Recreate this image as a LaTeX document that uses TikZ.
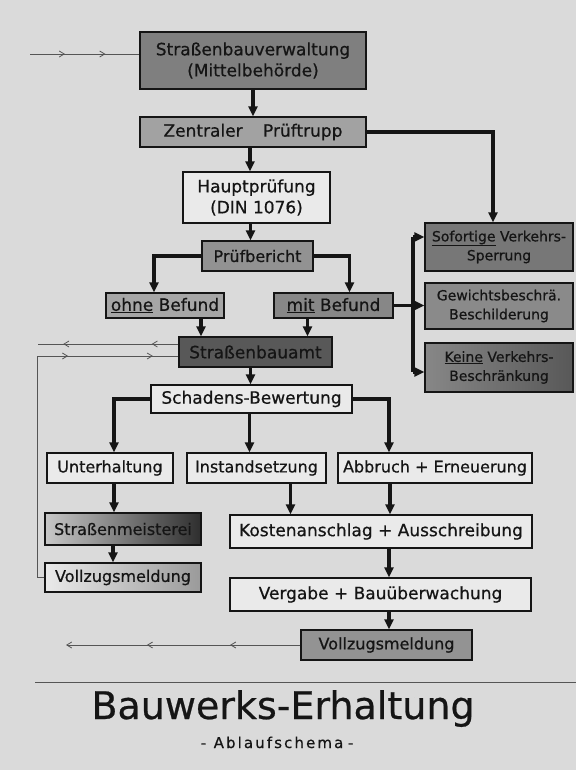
\documentclass[tikz,border=0pt]{standalone}
\usepackage{fontspec}
\setmainfont{DejaVu Sans}[FakeBold=0.6]
\usetikzlibrary{arrows.meta,decorations.markings,calc}
\definecolor{bg}{HTML}{DADADA}
\definecolor{ink}{HTML}{151515}
\definecolor{thinc}{HTML}{555555}
\definecolor{wbox}{HTML}{EAEAEA}
\definecolor{cA}{HTML}{7F7F7F}
\definecolor{cB}{HTML}{A2A2A2}
\definecolor{cPB}{HTML}{929292}
\definecolor{cOB}{HTML}{A6A6A6}
\definecolor{cMB}{HTML}{878787}
\definecolor{cSA}{HTML}{585858}
\definecolor{cSV}{HTML}{777777}
\definecolor{cGB}{HTML}{8A8A8A}
\definecolor{cVR}{HTML}{939393}
\definecolor{smL}{HTML}{C8C8C8}
\definecolor{smR}{HTML}{2E2E2E}
\definecolor{vlR}{HTML}{9A9A9A}
\begin{document}
\begin{tikzpicture}[x=1pt,y=-1pt,
  box/.style={draw=ink, line width=1.3pt, inner sep=0pt, align=center, text=ink,
    font=\fontsize{16}{19}\selectfont},
  smallbox/.style={box, font=\fontsize{14}{19}\selectfont},
  conn/.style={draw=ink, line width=3.2pt, -{Triangle[length=10pt,width=9pt]}},
  plain/.style={draw=ink, line width=3.2pt},
  thinl/.style={draw=thinc, line width=0.8pt},
  twomarks/.style n args={2}{postaction={decorate,decoration={markings,
    mark=at position #1 with {\arrow{Straight Barb[length=5pt,width=6pt]}},
    mark=at position #2 with {\arrow{Straight Barb[length=5pt,width=6pt]}}}}}
]
\useasboundingbox (0,0) rectangle (576,770);
\fill[bg] (0,0) rectangle (576,770);

% nodes
\node[box, fill=cA, minimum width=226pt, minimum height=57pt, font=\fontsize{17}{21}\selectfont] (b1) at (253,60.5) {Straßenbauverwaltung\\(Mittelbehörde)};
\node[box, fill=cB, minimum width=226pt, minimum height=30pt, font=\fontsize{17}{21}\selectfont] (b2) at (253,132) {Zentraler\hspace{1.2em}Prüftrupp};
\node[box, fill=wbox, minimum width=147pt, minimum height=51pt, font=\fontsize{17}{21}\selectfont] (hp) at (256.5,197.5) {Hauptprüfung\\(DIN 1076)};
\node[box, fill=cPB, minimum width=111pt, minimum height=30pt] (pb) at (257.5,256) {Prüfbericht};
\node[box, fill=cOB, minimum width=118pt, minimum height=25pt, font=\fontsize{17}{21}\selectfont] (ob) at (165,305.5) {\underline{ohne} Befund};
\node[box, fill=cMB, minimum width=119pt, minimum height=25pt, font=\fontsize{17}{21}\selectfont] (mb) at (333.5,305.5) {\underline{mit} Befund};
\node[box, fill=cSA, minimum width=153pt, minimum height=30pt, font=\fontsize{17}{21}\selectfont] (sa) at (255.5,352) {Straßenbauamt};
\node[smallbox, fill=cSV, minimum width=148pt, minimum height=48pt] (sv) at (499,247) {\underline{Sofortige} Verkehrs-\\Sperrung};
\node[smallbox, fill=cGB, minimum width=148pt, minimum height=46pt] (gb) at (499,306) {Gewichtsbeschrä.\\Beschilderung};
\node[smallbox, left color=cMB, right color=cSA, minimum width=148pt, minimum height=49pt] (kv) at (499,367.5) {\underline{Keine} Verkehrs-\\Beschränkung};
\node[box, fill=wbox, minimum width=201pt, minimum height=28pt, font=\fontsize{17}{21}\selectfont] (sb) at (251.5,399) {Schadens-Bewertung};
\node[box, fill=wbox, minimum width=126pt, minimum height=30pt] (uh) at (110,468) {Unterhaltung};
\node[box, fill=wbox, minimum width=139pt, minimum height=30pt] (is) at (256.5,468) {Instandsetzung};
\node[box, fill=wbox, minimum width=194pt, minimum height=30pt] (ae) at (435,468) {Abbruch + Erneuerung};
\node[box, left color=smL, right color=smR, minimum width=156pt, minimum height=32pt] (sm) at (123,529) {Straßenmeisterei};
\node[box, fill=wbox, minimum width=302pt, minimum height=33pt, font=\fontsize{17}{21}\selectfont] (ka) at (381,531.5) {Kostenanschlag + Ausschreibung};
\node[box, left color=wbox, right color=vlR, minimum width=156pt, minimum height=29pt] (vl) at (123,577.5) {Vollzugsmeldung};
\node[box, fill=wbox, minimum width=301pt, minimum height=33pt, font=\fontsize{17}{21}\selectfont] (vb) at (380.5,594.5) {Vergabe + Bauüberwachung};
\node[box, fill=cVR, minimum width=171pt, minimum height=30pt] (vr) at (386.5,645) {Vollzugsmeldung};

\node[anchor=base, text=ink, font=\fontsize{38}{44}\selectfont] (title) at (283,719) {Bauwerks-Erhaltung};
\node[anchor=base, text=ink, font=\fontsize{15}{18}\selectfont\addfontfeature{LetterSpace=14}] (sub) at (277,748) {-\hspace{0.5em}Ablaufschema\hspace{0.3em}-};

% coordinates
\coordinate (tin) at (30,54);
\coordinate (cL) at (37,356);
\coordinate (lout) at (38,344);
\coordinate (bout) at (66,645);
\coordinate (jtop) at (413,237);
\coordinate (jbot) at (413,372);
\coordinate (rl) at (35,682);
\coordinate (rr) at (576,682);

% thick connectors
\draw[conn] (b1.south) -- (b2.north);
\draw[conn] ([xshift=-3pt]b2.south) -- ([xshift=-3pt]b2.south |- hp.north);
\draw[conn] ([xshift=-6pt]hp.south) -- ([xshift=-6pt]hp.south |- pb.north);
\draw[conn] (b2.east) -| ([xshift=-6pt]sv.north);
\draw[conn] (pb.west) -| ([xshift=-11pt]ob.north);
\draw[conn] (pb.east) -| ([xshift=16pt]mb.north);
\draw[conn] ([xshift=36pt]ob.south) -- ([xshift=36pt]ob.south |- sa.north);
\draw[conn] ([xshift=-26pt]mb.south) -- ([xshift=-26pt]mb.south |- sa.north);
\draw[conn] (mb.east) -- (mb.east -| gb.west);
\draw[plain] (jtop) -- (jbot);
\draw[conn] (jtop) -- (jtop -| sv.west);
\draw[conn] (jbot) -- (jbot -| kv.west);
\draw[conn] ([xshift=-5pt]sa.south) -- ([xshift=-5pt]sa.south |- sb.north);
\draw[conn] (sb.west) -| ([xshift=4pt]uh.north);
\draw[conn] ([xshift=-2pt]sb.south) -- ([xshift=-2pt]sb.south |- is.north);
\draw[conn] (sb.east) -| ([xshift=-46pt]ae.north);
\draw[conn] ([xshift=4pt]uh.south) -- ([xshift=4pt]uh.south |- sm.north);
\draw[conn] ([xshift=34pt]is.south) -- ([xshift=34pt]is.south |- ka.north);
\draw[conn] ([xshift=-45pt]ae.south) -- ([xshift=-45pt]ae.south |- ka.north);
\draw[conn] ([xshift=-10pt]sm.south) -- ([xshift=-10pt]sm.south |- vl.north);
\draw[conn] ([xshift=8pt]ka.south) -- ([xshift=8pt]ka.south |- vb.north);
\draw[conn] ([xshift=2.5pt]vr.north |- vb.south) -- ([xshift=2.5pt]vr.north);

% thin lines
\draw[thinl, twomarks={0.32}{0.69}] (tin) -- (tin -| b1.west);
\draw[thinl, twomarks={0.19}{0.82}] ([yshift=8pt]sa.west) -- (lout);
\draw[thinl] (vl.west) -| (cL);
\draw[thinl, twomarks={0.22}{0.82}] (cL) -- (cL -| sa.west);
\draw[thinl, twomarks={0.3}{0.655}, -{Straight Barb[length=5pt,width=6pt]}] (vr.west) -- (bout);
\draw[thinl, line width=1pt] (rl) -- (rr);
\end{tikzpicture}
\end{document}
